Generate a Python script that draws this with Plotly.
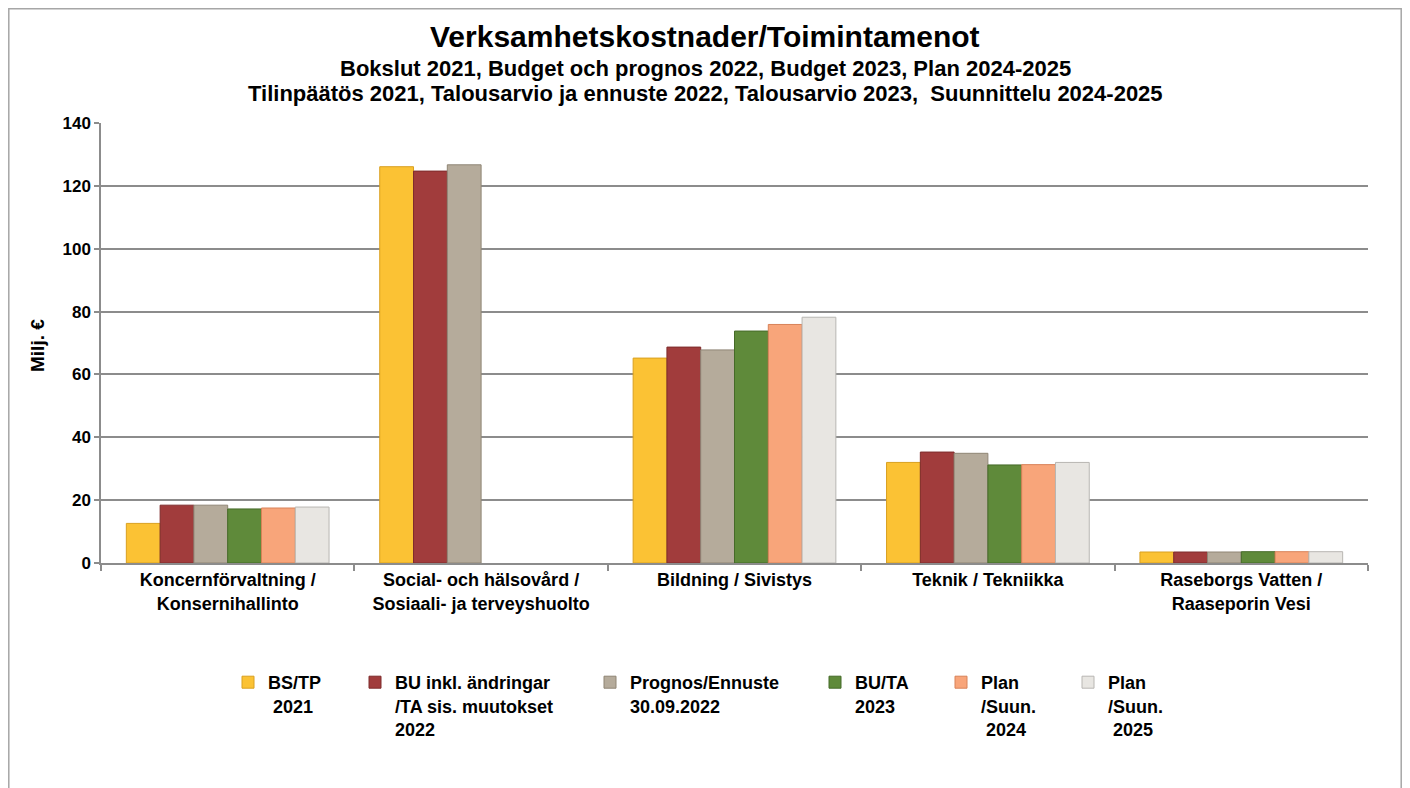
import plotly.graph_objects as go

categories = [
    "Koncernförvaltning /<br>Konsernihallinto",
    "Social- och hälsovård /<br>Sosiaali- ja terveyshuolto",
    "Bildning / Sivistys",
    "Teknik / Tekniikka",
    "Raseborgs Vatten /<br>Raaseporin Vesi",
]

series_names = [
    "BS/TP<br>\u00a02021",
    "BU inkl. ändringar<br>/TA sis. muutokset<br>2022",
    "Prognos/Ennuste<br>30.09.2022",
    "BU/TA<br>2023",
    "Plan<br>/Suun.<br>\u00a02024",
    "Plan<br>/Suun.<br>\u00a02025",
]

bs_tp_2021 = [12.6, 126.1, 65.2, 32.0, 3.5]
bu_ta_2022 = [18.4, 124.7, 68.7, 35.3, 3.5]
prognos_2022 = [18.4, 126.7, 67.8, 34.9, 3.5]
bu_ta_2023 = [17.2, None, 73.8, 31.2, 3.6]
plan_2024 = [17.5, None, 75.9, 31.3, 3.6]
plan_2025 = [17.8, None, 78.2, 32.0, 3.6]

values = [bs_tp_2021, bu_ta_2022, prognos_2022, bu_ta_2023, plan_2024, plan_2025]
colors = ["#FBC234", "#A13C3C", "#B5AB9B", "#5F8A3A", "#F8A57A", "#E8E6E2"]
line_colors = ["#D9A020", "#7E2C2C", "#8F8575", "#456A28", "#D88258", "#B8B6B2"]

FONT = "Liberation Sans, Arial, sans-serif"

# page has an 8px body margin; work in page pixels and convert
OFF = 8
FIG_W, FIG_H = 1410 - OFF * 2, 788 - OFF
L, R, T, B = 101 - OFF, 1368 - OFF, 123 - OFF, 563 - OFF
W, H = R - L, B - T


def px(x):
    return (x - OFF - L) / W


def py(y):
    return (B - (y - OFF)) / H


legend_marker_x = [245, 372, 607, 832, 958, 1085]
legend_names = ["legend", "legend2", "legend3", "legend4", "legend5", "legend6"]

fig = go.Figure()
for name, vals, c, lc, lg in zip(series_names, values, colors, line_colors, legend_names):
    fig.add_trace(go.Bar(
        x=categories, y=vals, name=name, legend=lg,
        marker=dict(color=c, line=dict(color=lc, width=1)),
    ))

annotations = [
    dict(text="<b>Verksamhetskostnader/Toimintamenot</b>", x=px(705), y=py(37),
         font=dict(size=30)),
    dict(text="<b>Bokslut 2021, Budget och prognos 2022, Budget 2023, Plan 2024-2025</b>",
         x=px(705), y=py(68), font=dict(size=22)),
    dict(text="<b>Tilinpäätös 2021, Talousarvio ja ennuste 2022, Talousarvio 2023,  Suunnittelu 2024-2025</b>",
         x=px(705), y=py(93), font=dict(size=22)),
    dict(text="<b>Milj. €</b>", x=px(37), y=py(346), textangle=-90, font=dict(size=19)),
]
for a in annotations:
    a.update(xref="paper", yref="paper", showarrow=False, xanchor="center", yanchor="middle")
    a["font"].update(family=FONT, color="black")

layout_legends = {}
for lg, mx in zip(legend_names, legend_marker_x):
    layout_legends[lg] = dict(
        orientation="h", x=px(mx - 17), y=py(664), xanchor="left", yanchor="top",
        font=dict(family=FONT, size=18, color="black", weight="bold"),
        valign="top", itemclick=False, bgcolor="rgba(0,0,0,0)",
    )

fig.update_layout(
    width=FIG_W, height=FIG_H,
    margin=dict(l=L, r=FIG_W - R, t=T, b=FIG_H - B),
    paper_bgcolor="white", plot_bgcolor="white",
    barmode="group", bargap=0.2, bargroupgap=0,
    font=dict(family=FONT, color="black", size=17),
    annotations=annotations,
    showlegend=True,
    shapes=[dict(type="rect", xref="paper", yref="paper",
                 x0=px(8.8), x1=px(1401.2), y0=py(820), y1=py(8.8),
                 line=dict(color="#A6A6A6", width=1.5), fillcolor="rgba(0,0,0,0)",
                 layer="below")],
    **layout_legends,
)

fig.update_xaxes(
    type="category", tickson="boundaries", ticks="outside", ticklen=6,
    tickcolor="#8C8C8C", tickwidth=1.5, showline=True, linecolor="#8C8C8C", linewidth=1.5,
    showgrid=False, tickfont=dict(size=18, family=FONT, weight="bold"),
)
fig.update_yaxes(
    range=[0, 140], dtick=20, ticks="outside", ticklen=5, tickcolor="#8C8C8C", tickwidth=1.5,
    showline=True, linecolor="#8C8C8C", linewidth=1.5,
    showgrid=True, gridcolor="#8C8C8C", gridwidth=1.5, zeroline=False,
    tickfont=dict(size=17, family=FONT, weight="bold"),
)

fig.write_html("out.html")
